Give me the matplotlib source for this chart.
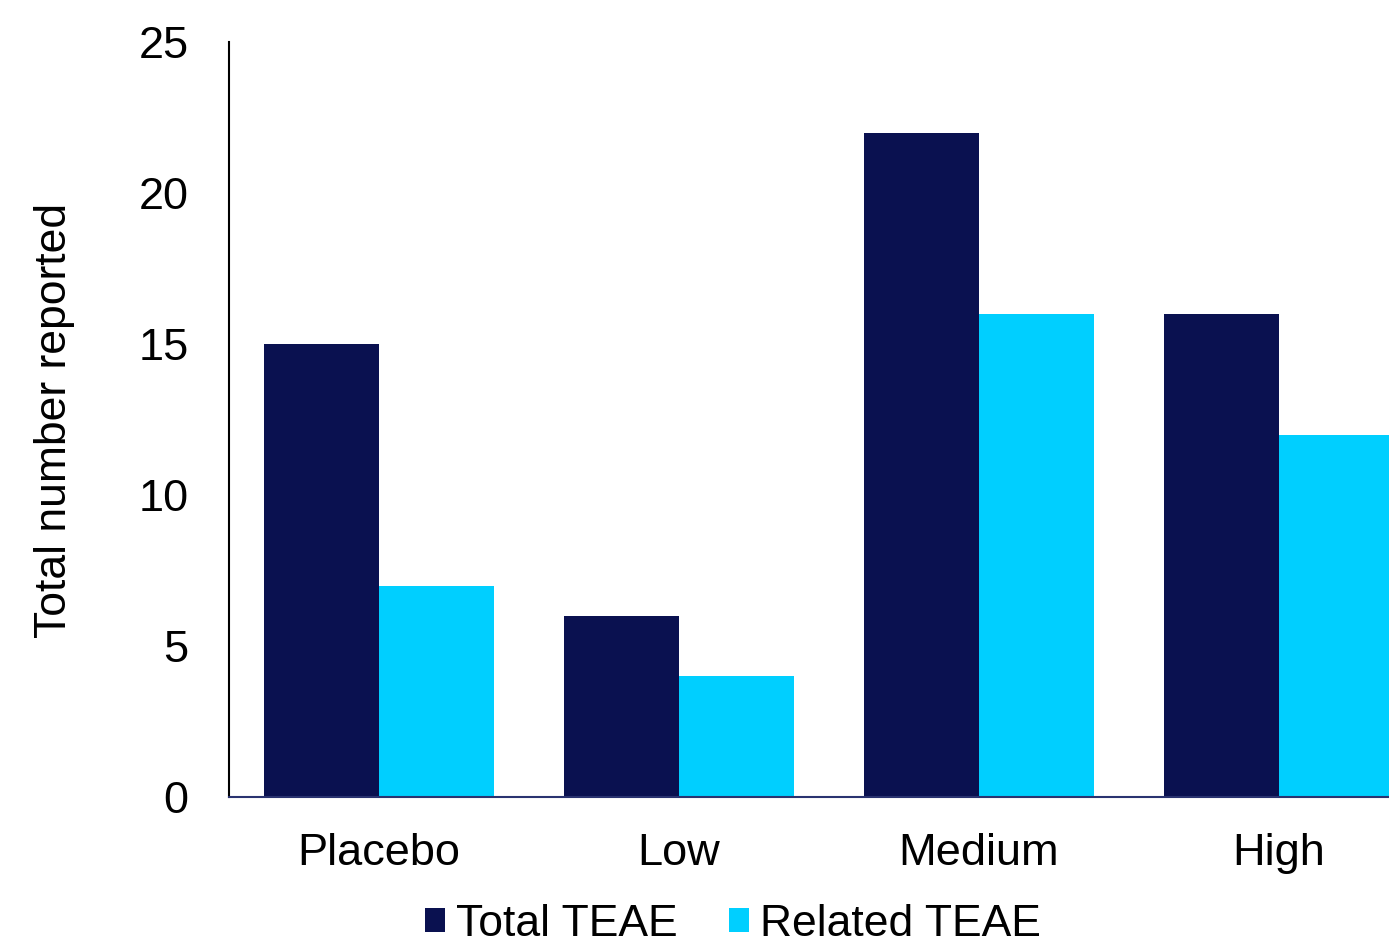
import matplotlib
matplotlib.use("Agg")
import matplotlib.pyplot as plt
from matplotlib.patches import Patch
import numpy as np

categories = ["Placebo", "Low", "Medium", "High"]
total_teae = [15, 6, 22, 16]
related_teae = [7, 4, 16, 12]
series_names = ["Total TEAE", "Related TEAE"]
y_ticks = [0, 5, 10, 15, 20, 25]

navy = "#0A1150"
cyan = "#00CFFF"

plt.rcParams["font.family"] = ["Liberation Sans", "DejaVu Sans"]
fs = 32.5

fig = plt.figure(figsize=(13.89, 9.48), dpi=100)
ax = fig.add_axes([229 / 1389, 151 / 948, 1200 / 1389, 755 / 948])

x = np.arange(len(categories))
w = 115 / 300
ax.bar(x - w / 2, total_teae, width=w, color=navy, edgecolor="none")
ax.bar(x + w / 2, related_teae, width=w, color=cyan, edgecolor="none")

ax.set_xlim(-0.5, len(categories) - 0.5)
ax.set_ylim(0, 25)
ax.set_yticks(y_ticks)
ax.set_xticks(x)
ax.set_xticklabels(categories)
ax.tick_params(axis="both", length=0, labelsize=fs)
ax.tick_params(axis="y", pad=29)
ax.tick_params(axis="x", pad=26)

for s in ["top", "right"]:
    ax.spines[s].set_visible(False)
ax.spines["left"].set_color("black")
ax.spines["left"].set_linewidth(1.5)
ax.spines["bottom"].set_color("#2A3370")
ax.spines["bottom"].set_linewidth(1.5)

fig.text(55 / 1389, (948 - 420) / 948, "Total number reported", fontsize=32,
         rotation=90, ha="center", va="center")

handles = [Patch(facecolor=navy, edgecolor="none"), Patch(facecolor=cyan, edgecolor="none")]
fig.legend(handles, series_names, loc="center", bbox_to_anchor=(733 / 1389, 24 / 948),
           ncol=2, frameon=False, fontsize=32, handlelength=0.45, handleheight=0.45,
           handletextpad=0.26, columnspacing=1.15, borderpad=0, borderaxespad=0)

fig.savefig("out.png", dpi=100)
